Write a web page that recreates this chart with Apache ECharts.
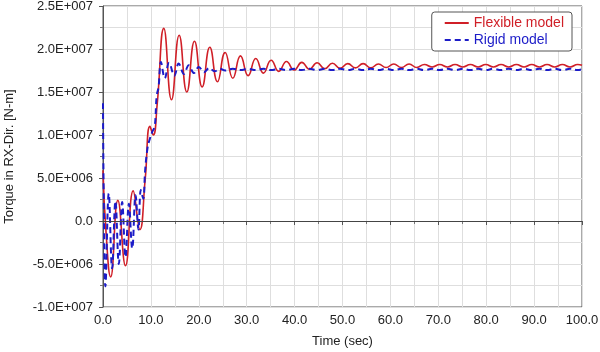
<!DOCTYPE html>
<html>
<head>
<meta charset="utf-8">
<script src="https://cdn.jsdelivr.net/npm/echarts@6/dist/echarts.min.js"></script>
<style>
  html, body { margin: 0; padding: 0; background: #fff; }
  #chart { width: 600px; height: 352px; }
</style>
</head>
<body>
<div id="chart"></div>
<script>
// torque values in units of 1E+006 N-m
var flexTime = [
  0, 0.6, 1.6, 3.1, 4.7, 6.3, 7.7, 8.8, 9.8, 10.5, 11.3,
  12.7, 14.3, 15.9, 17.5, 19.1, 20.7, 22.3, 23.9, 25.5, 27.1,
  28.7, 30.3, 31.9, 33.5, 35.1, 36.7, 38.3, 39.9, 41.5, 43.1,
  44.7, 46.3, 47.9, 49.5, 51.1, 52.7, 54.3, 55.9, 57.5, 59.1,
  60.7, 62.3, 63.9, 65.5, 67.1, 68.7, 70.3, 71.9, 73.5, 75.1,
  76.7, 78.3, 79.9, 81.5, 83.1, 84.7, 86.3, 87.9, 89.5, 91.1,
  92.7, 94.3, 95.9, 97.5, 99.1, 100
];
var flexTorque = [
  5.9, -1.0, -6.5, 2.4, -5.2, 3.5, -1.0, 4.8, 11.0, 10.0, 13.5,
  22.4, 14.1, 21.6, 15.0, 20.9, 15.6, 20.2, 16.2, 19.6, 16.6,
  19.2, 16.9, 18.9, 17.2, 18.7, 17.4, 18.55, 17.55, 18.45, 17.65,
  18.4, 17.7, 18.35, 17.75, 18.3, 17.8, 18.3, 17.8, 18.25, 17.85,
  18.25, 17.85, 18.25, 17.85, 18.2, 17.9, 18.2, 17.9, 18.2, 17.9,
  18.2, 17.9, 18.2, 17.9, 18.2, 17.9, 18.2, 17.9, 18.2, 17.9,
  18.2, 17.9, 18.2, 17.9, 18.2, 18.1
];

var rigidTime = [
  0, 0.15, 0.5, 1.2, 1.9, 2.6, 3.3, 4.0, 4.7, 5.4, 6.1, 6.8,
  7.4, 7.9, 8.4, 8.8, 9.3, 9.8, 10.3, 10.8, 11.2, 11.6,
  12.1, 12.9, 13.8, 14.9, 15.8, 16.9, 17.9, 19.0, 20.0, 21.1,
  22.2, 23.3, 24.4, 25.5,
  27.1, 28.7, 30.3, 31.9, 33.5, 35.1, 36.7, 38.3,
  39.9, 41.5, 43.1, 44.7, 46.3, 47.9, 49.5, 51.1,
  52.7, 54.3, 55.9, 57.5, 59.1, 60.7, 62.3, 63.9,
  65.5, 67.1, 68.7, 70.3, 71.9, 73.5, 75.1, 76.7,
  78.3, 79.9, 81.5, 83.1, 84.7, 86.3, 87.9, 89.5,
  91.1, 92.7, 94.3, 95.9, 97.5, 99.1, 100
];
var rigidTorque = [
  13.7, 3.0, -7.6, 3.2, -5.5, 2.3, -5.0, 2.2, -4.2, 2.0, -3.2, 3.0,
  -1.0, 3.6, 2.6, 5.9, 8.5, 9.6, 10.4, 11.0, 14.5, 15.6,
  18.5, 16.6, 18.4, 16.9, 18.3, 17.1, 18.1, 17.2, 17.9, 17.3,
  17.8, 17.4, 17.7, 17.5,
  17.7, 17.55, 17.7, 17.55, 17.7, 17.55, 17.7, 17.55,
  17.7, 17.55, 17.7, 17.55, 17.7, 17.55, 17.7, 17.55,
  17.7, 17.55, 17.7, 17.55, 17.7, 17.55, 17.7, 17.55,
  17.7, 17.55, 17.7, 17.55, 17.7, 17.55, 17.7, 17.55,
  17.7, 17.55, 17.7, 17.55, 17.7, 17.55, 17.7, 17.55,
  17.7, 17.55, 17.7, 17.55, 17.7, 17.55, 17.65
];

var seriesNames = ['Flexible model', 'Rigid model'];
var seriesColors = ['#d01f27', '#1c1cc8'];

function pairs(t, v) {
  var out = [];
  for (var i = 0; i < t.length; i++) {
    out.push([t[i], v[i] * 1e6]);
  }
  return out;
}

function sciLabel(val) {
  if (val === 0) return '0.0';
  var sign = val < 0 ? '-' : '';
  var a = Math.abs(val);
  var e = Math.floor(Math.log10(a) + 1e-9);
  var m = (a / Math.pow(10, e)).toFixed(1);
  var es = String(e);
  while (es.length < 3) es = '0' + es;
  return sign + m + 'E+' + es;
}

var font = 'Liberation Sans, Arial, sans-serif';
var myChart = echarts.init(document.getElementById('chart'));
var option = {
  animation: false,
  backgroundColor: '#fff',
  grid: {
    left: 103,
    right: 18,
    top: 6,
    bottom: 45,
    outerBoundsMode: 'none',
    show: true,
    borderColor: '#555',
    borderWidth: 1
  },
  legend: {
    orient: 'vertical',
    align: 'left',
    right: 28,
    top: 12,
    padding: [4, 8, 4, 12],
    itemGap: 3,
    itemWidth: 24,
    itemHeight: 14,
    borderColor: '#555',
    borderWidth: 1,
    borderRadius: 3,
    backgroundColor: '#fff',
    itemStyle: { opacity: 0 },
    textStyle: { fontSize: 14, fontFamily: font },
    data: [
      { name: seriesNames[0], textStyle: { color: seriesColors[0] } },
      { name: seriesNames[1], textStyle: { color: seriesColors[1] } }
    ]
  },
  xAxis: {
    type: 'value',
    min: 0,
    max: 100,
    interval: 10,
    name: 'Time (sec)',
    nameLocation: 'middle',
    nameGap: 28,
    nameTextStyle: { fontSize: 13, color: '#222', fontFamily: font },
    axisLine: { show: true, lineStyle: { color: '#555' } },
    axisTick: { show: true, length: 4, lineStyle: { color: '#555' } },
    minorTick: { show: true, splitNumber: 2, length: 3, lineStyle: { color: '#777' } },
    axisLabel: {
      fontSize: 13, color: '#222', fontFamily: font, margin: 7,
      formatter: function (v) { return v.toFixed(1); }
    },
    splitLine: { show: true, lineStyle: { color: '#dedede' } },
    minorSplitLine: { show: true, lineStyle: { color: '#dedede' } }
  },
  yAxis: {
    type: 'value',
    min: -1e7,
    max: 2.5e7,
    interval: 5e6,
    name: 'Torque in RX-Dir. [N-m]',
    nameLocation: 'middle',
    nameGap: 87,
    nameTextStyle: { fontSize: 13, color: '#222', fontFamily: font },
    axisLine: { show: true, lineStyle: { color: '#555' } },
    axisTick: { show: true, length: 4, lineStyle: { color: '#555' } },
    minorTick: { show: true, splitNumber: 2, length: 3, lineStyle: { color: '#777' } },
    axisLabel: {
      fontSize: 13, color: '#222', fontFamily: font, margin: 10,
      formatter: sciLabel
    },
    splitLine: { show: true, lineStyle: { color: '#dedede' } },
    minorSplitLine: { show: true, lineStyle: { color: '#dedede' } }
  },
  series: [
    {
      name: seriesNames[0],
      type: 'line',
      data: pairs(flexTime, flexTorque),
      symbol: 'none',
      smooth: 0.5,
      z: 3,
      color: seriesColors[0],
      lineStyle: { color: seriesColors[0], width: 1.6 },
      markLine: {
        silent: true,
        symbol: 'none',
        label: { show: false },
        lineStyle: { color: '#444', type: 'solid', width: 1 },
        data: [{ yAxis: 0 }]
      }
    },
    {
      name: seriesNames[1],
      type: 'line',
      data: pairs(rigidTime, rigidTorque),
      symbol: 'none',
      smooth: 0.4,
      z: 4,
      color: seriesColors[1],
      lineStyle: { color: seriesColors[1], width: 2, type: [6, 4] }
    }
  ]
};
option && myChart.setOption(option);
</script>
</body>
</html>
